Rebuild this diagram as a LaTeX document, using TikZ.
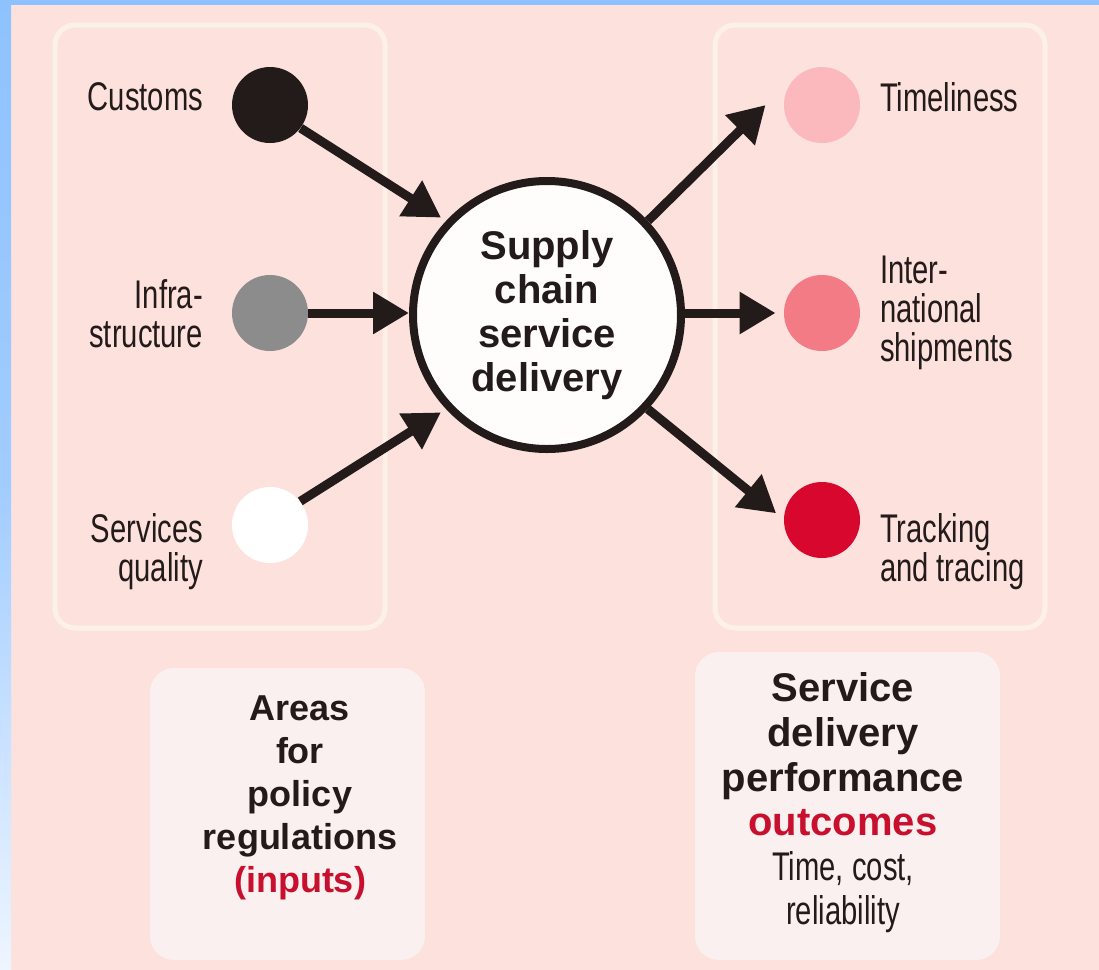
\documentclass[tikz,border=0pt]{standalone}
\usepackage{fontspec}
\setmainfont{Liberation Sans}
\newfontfamily\narrowfont[FakeStretch=0.73]{Liberation Sans}
\usetikzlibrary{arrows.meta}
\definecolor{scpink}{RGB}{252, 225, 221}
\definecolor{scpale}{RGB}{250, 240, 239}
\definecolor{scrim}{RGB}{252, 241, 230}
\definecolor{scblue}{RGB}{142, 194, 255}
\definecolor{scfade}{RGB}{238, 245, 255}
\definecolor{scdark}{RGB}{35, 26, 26}
\definecolor{scgray}{RGB}{140, 140, 140}
\definecolor{sclight}{RGB}{251, 185, 189}
\definecolor{scsalmon}{RGB}{242, 123, 133}
\definecolor{scred}{RGB}{216, 7, 46}
\definecolor{sccrimson}{RGB}{200, 16, 46}

\begin{document}
\begin{tikzpicture}[x=0.5pt, y=-0.5pt,
  dot/.style={circle, minimum size=38pt, inner sep=0pt},
  lbl/.style={font=\narrowfont\fontsize{20}{19.5}\selectfont, text=scdark},
  arr/.style={-{Triangle[length=18pt,width=20pt]}, line width=4.5pt, draw=scdark},
  panel/.style={rounded corners=10pt, draw=scrim, line width=2.5pt}]
\useasboundingbox (0,0) rectangle (1099,970);
% background and frame
\fill[scpink] (0,0) rectangle (1099,970);
\shade[top color=scblue, bottom color=scfade, middle color=scblue!80!scfade] (0,0) rectangle (11,970);
\fill[scblue] (0,0) rectangle (1099,5);

% input and output panels
\draw[panel] (55,25) rectangle (385,628);
\draw[panel] (715,25) rectangle (1045,628);
\fill[scpale, rounded corners=12pt] (150,668) rectangle (425,960);
\fill[scpale, rounded corners=12pt] (695,652) rectangle (1000,960);

% hub
\node[circle, draw=scdark, line width=4pt, fill=white!92!scpink, minimum size=134pt,
  inner sep=0pt, align=center, font=\bfseries\fontsize{20}{22}\selectfont, text=scdark]
  (hub) at (547,315) {Supply\\chain\\service\\delivery};

% inputs
\node[dot, fill=scdark] (cus) at (270,105) {};
\node[dot, fill=scgray] (inf) at (270,313) {};
\node[dot, fill=white] (svc) at (270,525) {};
\node[lbl, anchor=east] (lcus) at (210,97) {Customs};
\node[lbl, anchor=east, align=right] (linf) at (210,314) {Infra-\\structure};
\node[lbl, anchor=east, align=right] (lsvc) at (210,552) {Services\\quality};

% outputs
\node[dot, fill=sclight] (tim) at (822,105) {};
\node[dot, fill=scsalmon] (int) at (822,313) {};
\node[dot, fill=scred] (trk) at (822,520) {};
\node[lbl, anchor=west] (ltim) at (873,97) {Timeliness};
\node[lbl, anchor=west, align=left] (lint) at (873,313) {Inter-\\national\\shipments};
\node[lbl, anchor=west, align=left] (ltrk) at (873,552) {Tracking\\and tracing};

% connectors
\draw[arr, shorten >=3pt] (cus.-37) -- (hub.137);
\draw[arr] (inf) -- (hub.west|-inf);
\draw[arr, shorten >=3pt] (svc.38) -- (hub.223);
\draw[arr] (hub.43) -- ([xshift=-9pt]tim.west);
\draw[arr] (hub.east|-int) -- ([xshift=-4pt]int.west);
\draw[arr] (hub.-43) -- ([xshift=-4pt]trk.170);

% captions
\node[align=center, font=\bfseries\fontsize{18}{21.5}\selectfont, text=scdark]
  (cin) at (300,798) {Areas\\for\\policy\\regulations\\\textcolor{sccrimson}{(inputs)}};
\node[align=center, font=\bfseries\fontsize{20}{22.3}\selectfont, text=scdark]
  (cout) at (843,803) {Service\\delivery\\performance\\\textcolor{sccrimson}{outcomes}\\
  {\narrowfont\mdseries Time, cost,}\\{\narrowfont\mdseries reliability}};
\end{tikzpicture}
\end{document}
